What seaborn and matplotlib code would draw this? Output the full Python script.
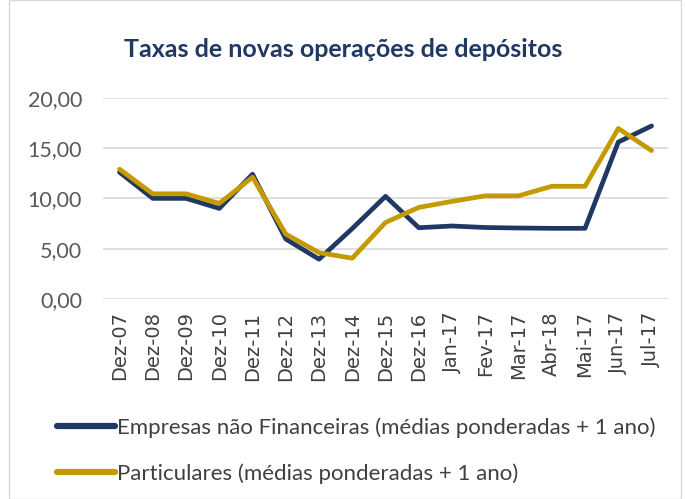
import numpy as np
import pandas as pd
import matplotlib.pyplot as plt
import seaborn as sns
from matplotlib.patches import Rectangle

periodos = ['Dez-07', 'Dez-08', 'Dez-09', 'Dez-10', 'Dez-11', 'Dez-12', 'Dez-13', 'Dez-14',
            'Dez-15', 'Dez-16', 'Jan-17', 'Fev-17', 'Mar-17', 'Abr-18', 'Mai-17', 'Jun-17', 'Jul-17']
empresas = [12.6, 10.0, 10.0, 9.0, 12.4, 5.95, 3.95, 7.0, 10.2, 7.08, 7.25, 7.1, 7.05, 7.02, 7.02, 15.6, 17.2]
particulares = [12.9, 10.45, 10.45, 9.5, 12.1, 6.45, 4.6, 4.05, 7.6, 9.1, 9.7, 10.25, 10.25, 11.2, 11.2, 16.95, 14.75]
series = ['Empresas não Financeiras (médias ponderadas + 1 ano)',
          'Particulares (médias ponderadas + 1 ano)']
cores = ['#1F3864', '#C59A00']

df = pd.DataFrame({
    'periodo': periodos * 2,
    'pos': list(range(len(periodos))) * 2,
    'taxa': empresas + particulares,
    'serie': [series[0]] * len(periodos) + [series[1]] * len(periodos),
})

sns.set_style('white')
plt.rcParams['font.family'] = ['Lato', 'DejaVu Sans']

fig = plt.figure(figsize=(6.86, 4.99), dpi=100)
ax = fig.add_axes([0.150, 0.401, 0.824, 0.403])
sns.lineplot(data=df, x='pos', y='taxa', hue='serie', palette=cores, linewidth=3.4, ax=ax, legend=False)

ax.set_xlim(-0.5, len(periodos) - 0.5)
ax.set_ylim(0, 20)
ax.set_yticks([0, 5, 10, 15, 20])
ax.set_yticklabels([f'{v:.2f}'.replace('.', ',') for v in [0, 5, 10, 15, 20]], fontsize=15.5, color='#595959')
ax.set_xticks(range(len(periodos)))
ax.set_xticklabels(periodos, rotation=90, fontsize=14, color='#404040', family='DejaVu Sans')
ax.tick_params(axis='y', length=0, pad=15)
ax.tick_params(axis='x', length=0, pad=9)
ax.grid(axis='y', color='#D9D9D9', linewidth=1.2)
for s in ax.spines.values():
    s.set_visible(False)
ax.set_xlabel('')
ax.set_ylabel('')

fig.text(0.5, 0.900, 'Taxas de novas operações de depósitos', ha='center', va='center',
         fontsize=18, fontweight='bold', color='#1F3864')

handles = [plt.Line2D([], [], color=c, linewidth=4.5, solid_capstyle='round') for c in cores]
fig.legend(handles, series, loc='upper left', bbox_to_anchor=(0.054, 0.204), frameon=False,
           fontsize=16, labelcolor='#404040', handlelength=2.6, handletextpad=0.1, labelspacing=1.15)

fig.patches.append(Rectangle((0.013, 0.0), 0.98, 0.999, transform=fig.transFigure, fill=False,
                             edgecolor='#D9D9D9', linewidth=1))

fig.savefig('out.png', dpi=100)
